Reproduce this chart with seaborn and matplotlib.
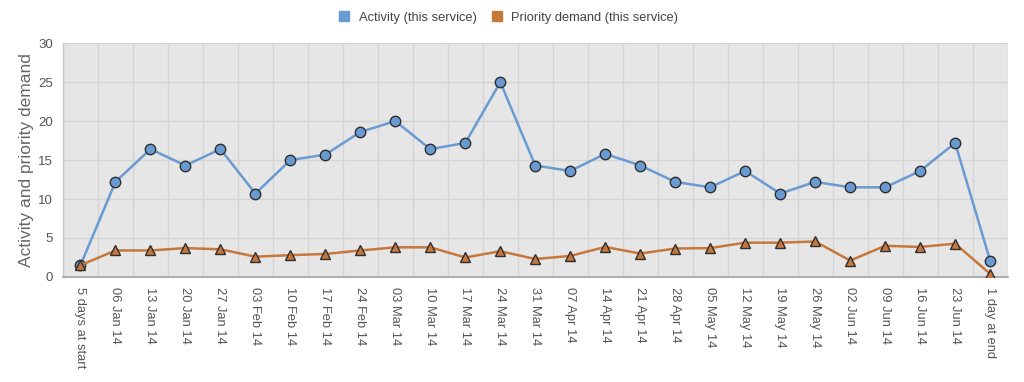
import numpy as np
import pandas as pd
import matplotlib
matplotlib.use("Agg")
import matplotlib.pyplot as plt
from matplotlib.lines import Line2D
import seaborn as sns

# Week labels along the x axis
weeks = ["5 days at start",
         "06 Jan 14", "13 Jan 14", "20 Jan 14", "27 Jan 14",
         "03 Feb 14", "10 Feb 14", "17 Feb 14", "24 Feb 14",
         "03 Mar 14", "10 Mar 14", "17 Mar 14", "24 Mar 14", "31 Mar 14",
         "07 Apr 14", "14 Apr 14", "21 Apr 14", "28 Apr 14",
         "05 May 14", "12 May 14", "19 May 14", "26 May 14",
         "02 Jun 14", "09 Jun 14", "16 Jun 14", "23 Jun 14",
         "1 day at end"]

activity = [1.5, 12.2, 16.4, 14.3, 16.4, 10.7, 15.0, 15.7, 18.6,
            20.0, 16.4, 17.2, 25.0, 14.3, 13.6, 15.8, 14.3, 12.2,
            11.5, 13.6, 10.7, 12.2, 11.5, 11.5, 13.6, 17.2, 2.1]

priority = [1.5, 3.4, 3.4, 3.7, 3.55, 2.6, 2.8, 2.95, 3.4,
            3.8, 3.8, 2.5, 3.3, 2.3, 2.7, 3.85, 3.0, 3.65,
            3.7, 4.4, 4.4, 4.55, 2.1, 4.0, 3.85, 4.27, 0.4]

series_names = ["Activity (this service)", "Priority demand (this service)"]
colors = ["#6a9ad2", "#c6773c"]

df = pd.concat([
    pd.DataFrame({"week": weeks, "value": activity, "series": series_names[0]}),
    pd.DataFrame({"week": weeks, "value": priority, "series": series_names[1]}),
])

sns.set_theme(style="white")
plt.rcParams["font.family"] = ["Liberation Sans", "DejaVu Sans"]

fig = plt.figure(figsize=(10.24, 3.82), dpi=100)
ax = fig.add_axes([0.0615, 0.275, 0.9225, 0.612])
ax.set_facecolor("#e6e6e6")

sns.lineplot(data=df, x="week", y="value", hue="series", style="series",
             palette=dict(zip(series_names, colors)),
             markers={series_names[0]: "o", series_names[1]: "^"},
             dashes=False, sort=False, linewidth=1.8, markersize=7.5,
             markeredgecolor="#2e2e2e", markeredgewidth=1.0,
             legend=False, ax=ax, zorder=3)

n = len(weeks)
ax.set_xlim(-0.5, n - 0.5)
ax.set_ylim(0, 30)
ax.set_yticks(np.arange(0, 31, 5))
ax.set_xticks(np.arange(n))
ax.set_xticks(np.arange(-0.5, n, 1), minor=True)
ax.set_xticklabels(weeks, rotation=-90, ha="center", va="top",
                   fontsize=9.3, color="#555555")
ax.tick_params(axis="x", which="major", length=0, pad=7)
ax.tick_params(axis="x", which="minor", length=5, color="#a0a0a0", width=1,
               direction="out")
ax.tick_params(axis="y", length=4, color="#a0a0a0", width=1, direction="out",
               labelsize=9.5, labelcolor="#555555", pad=3)

ax.grid(False)
ax.grid(True, axis="y", which="major", color="#d4d4d4", linewidth=1)
ax.grid(True, axis="x", which="minor", color="#d4d4d4", linewidth=1)
ax.set_axisbelow(True)

for side in ["top", "right"]:
    ax.spines[side].set_visible(False)
ax.spines["bottom"].set_color("#a0a0a0")
ax.spines["bottom"].set_linewidth(1.2)
ax.spines["left"].set_color("#c8c8c8")
ax.spines["left"].set_linewidth(1)

ax.set_xlabel("")
ax.set_ylabel("Activity and priority demand", fontsize=12.5, color="#666666",
              labelpad=3)

handles = [Line2D([], [], marker="s", linestyle="none", markersize=7,
                  markerfacecolor=c, markeredgecolor=c) for c in colors]
fig.legend(handles, series_names, loc="upper center",
           bbox_to_anchor=(0.493, 1.0), ncol=2, frameon=False,
           fontsize=9.3, handletextpad=0.1, columnspacing=0.6,
           labelcolor="#444444")

fig.savefig("out.png", dpi=100)
